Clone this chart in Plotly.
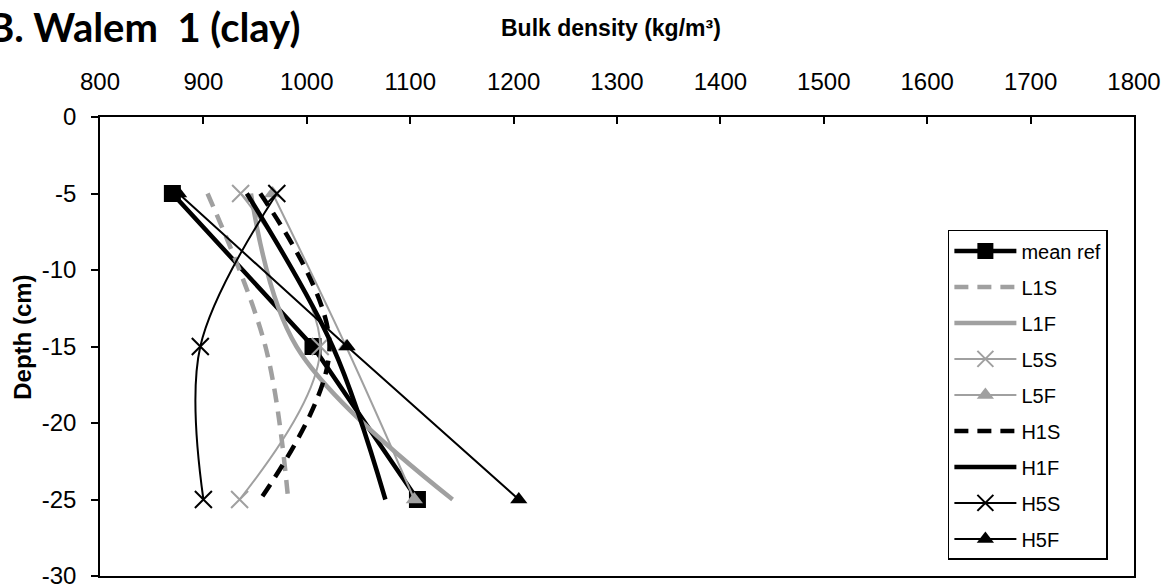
import plotly.graph_objects as go

# Depth of each sampled layer (cm, negative downwards)
depth = [-5, -15, -25]

# Bulk density per treatment (kg/m3) at each depth
mean_ref = [870, 1006, 1107]
l1s = [904, 960, 982]
l1f = [946, 990, 1141]
l5s = [936, 1013, 935]
l5f = [967, 1038, 1104]
h1s = [955, 1022, 955]
h1f = [942, 1025, 1076]
h5s = [971, 897, 900]
h5f = [876, 1039, 1205]

x_ticks = list(range(800, 1801, 100))
y_ticks = list(range(-30, 1, 5))

GREY = "#a0a0a0"
BLACK = "#000000"
ARIAL = "Liberation Sans, Arial, sans-serif"

series = [
    dict(name="mean ref", x=mean_ref, color=BLACK, width=4.5, dash="solid",
         symbol="square", msize=17, shape="linear"),
    dict(name="L1S", x=l1s, color=GREY, width=4.5, dash="14px,9px",
         symbol=None, msize=0, shape="spline"),
    dict(name="L1F", x=l1f, color=GREY, width=4.5, dash="solid",
         symbol=None, msize=0, shape="spline"),
    dict(name="L5S", x=l5s, color=GREY, width=2, dash="solid",
         symbol="x-thin", msize=17, shape="spline"),
    dict(name="L5F", x=l5f, color=GREY, width=2, dash="solid",
         symbol="triangle-up", msize=15, shape="spline"),
    dict(name="H1S", x=h1s, color=BLACK, width=4.5, dash="14px,9px",
         symbol=None, msize=0, shape="spline"),
    dict(name="H1F", x=h1f, color=BLACK, width=4.5, dash="solid",
         symbol=None, msize=0, shape="spline"),
    dict(name="H5S", x=h5s, color=BLACK, width=2, dash="solid",
         symbol="x-thin", msize=17, shape="spline"),
    dict(name="H5F", x=h5f, color=BLACK, width=2, dash="solid",
         symbol="triangle-up", msize=15, shape="linear"),
]

fig = go.Figure()
for i, s in enumerate(series):
    has_marker = s["symbol"] is not None
    fig.add_trace(go.Scatter(
        x=s["x"], y=depth, name=s["name"],
        mode="lines+markers" if has_marker else "lines",
        line=dict(color=s["color"], width=s["width"], dash=s["dash"],
                  shape=s["shape"], smoothing=1),
        marker=dict(symbol=s["symbol"] or "circle", size=s["msize"],
                    color=s["color"],
                    line=dict(color=s["color"], width=2 if s["symbol"] == "x-thin" else 0)),
        legendgroup=f"g{i}",
    ))

TICK_FONT = dict(family=ARIAL, size=24, color="black")

fig.update_layout(
    width=1168, height=585,
    margin=dict(l=100, r=34, t=117, b=9),
    paper_bgcolor="white", plot_bgcolor="white",
    showlegend=True,
    legend=dict(
        x=0.82, y=0.754, xanchor="left", yanchor="top",
        bordercolor="black", borderwidth=1.5, bgcolor="white",
        font=dict(family=ARIAL, size=20, color="black"),
        tracegroupgap=7, itemwidth=62,
    ),
    xaxis=dict(
        side="top", range=[800, 1800], tickvals=x_ticks,
        ticktext=[str(v) for v in x_ticks],
        showline=True, linecolor="black", linewidth=1.5, mirror=True,
        ticks="inside", ticklen=7, tickwidth=1.5, tickcolor="black",
        showgrid=False, zeroline=False, tickfont=TICK_FONT,
        ticklabelstandoff=16, ticklabeloverflow="allow", automargin=False,
    ),
    yaxis=dict(
        range=[-30, 0], tickvals=y_ticks,
        ticktext=[str(v) for v in y_ticks],
        showline=True, linecolor="black", linewidth=1.5, mirror=True,
        ticks="outside", ticklen=7, tickwidth=1.5, tickcolor="black",
        showgrid=False, zeroline=False, tickfont=TICK_FONT,
        ticklabelstandoff=10, ticklabeloverflow="allow", automargin=False,
    ),
    annotations=[
        dict(text="<b>B. Walem  1 (clay)</b>", xref="paper", yref="paper",
             x=-0.11, y=1.195, xanchor="left", yanchor="middle", showarrow=False,
             font=dict(family="Lato, Open Sans, sans-serif", size=40, color="black")),
        dict(text="<b>Bulk density (kg/m³)</b>", xref="paper", yref="paper",
             x=0.494, y=1.193, xanchor="center", yanchor="middle", showarrow=False,
             font=dict(family=ARIAL, size=23, color="black")),
        dict(text="<b>Depth (cm)</b>", xref="paper", yref="paper",
             x=-0.075, y=0.52, xanchor="center", yanchor="middle", showarrow=False,
             textangle=-90,
             font=dict(family=ARIAL, size=24, color="black")),
    ],
)

fig.write_html("out.html")
